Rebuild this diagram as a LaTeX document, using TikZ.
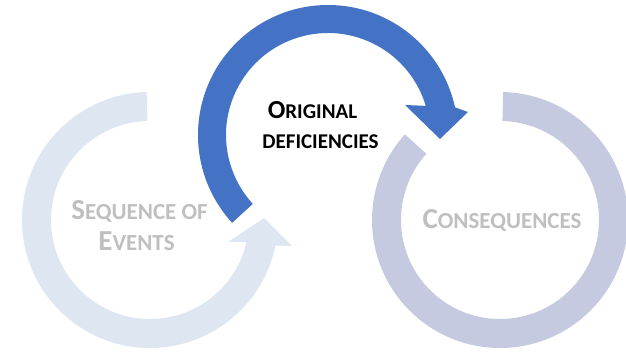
\documentclass[tikz,border=0pt]{standalone}
\usepackage{fontspec}
\setmainfont{Carlito}
\usetikzlibrary{calc}
\definecolor{blueArrow}{HTML}{4472C4}
\definecolor{lightRing}{HTML}{DEE6F2}
\definecolor{lavRing}{HTML}{C6CAE0}
\definecolor{greyText}{HTML}{BFBFBF}
\newcommand{\grsc}[2]{{\fontsize{29}{29}\selectfont #1}{\fontsize{23}{23}\selectfont #2}}
\newcommand{\bksc}[2]{{\fontsize{26}{26}\selectfont #1}{\fontsize{21}{21}\selectfont #2}}
\tikzset{
  greylabel/.style={text=greyText, font=\bfseries, inner sep=0pt, anchor=base},
  blacklabel/.style={text=black, font=\bfseries, inner sep=0pt, anchor=base}
}
\begin{document}
\begin{tikzpicture}[x=1pt,y=1pt]
\useasboundingbox (0,0) rectangle (626,354);
\coordinate (lc) at (150,134);
\coordinate (bc) at (328,219);
\coordinate (rc) at (500,134);
% left ring with arrow head
\coordinate (lhOut) at (292,108);
\coordinate (lhTip) at (264,136);
\coordinate (lhIn) at (228,112);
\fill[lightRing] ($(lc)+(91.5:128)$) arc[start angle=91.5, end angle=348.5, radius=128]
  -- (lhOut) -- (lhTip) -- (lhIn) -- ($(lc)+(347.2:99)$)
  arc[start angle=347.2, end angle=91.5, radius=99] -- cycle;
% blue arrow
\coordinate (bhOut) at (468,242);
\coordinate (bhTip) at (440,215);
\coordinate (bhIn) at (405,249);
\fill[blueArrow] ($(bc)+(222.5:130)$) arc[start angle=222.5, end angle=12.3, radius=130]
  -- (bhOut) -- (bhTip) -- (bhIn) -- ($(bc)+(16.6:102)$)
  arc[start angle=16.6, end angle=222.5, radius=102] -- cycle;
% right ring
\fill[lavRing] ($(rc)+(88.6:128)$) arc[start angle=88.6, end angle=-222, radius=128]
  -- ($(rc)+(-222:99)$) arc[start angle=-222, end angle=88.6, radius=99] -- cycle;
% labels
\node[blacklabel] (orig) at (312.5,235) {\bksc{O}{RIGINAL}};
\node[blacklabel] (defic) at (320.5,205) {\bksc{}{DEFICIENCIES}};
\node[greylabel] (seq) at (139.5,135) {\grsc{S}{EQUENCE OF}};
\node[greylabel] (evt) at (136.5,104) {\grsc{E}{VENTS}};
\node[greylabel] (cons) at (502,126) {\grsc{C}{ONSEQUENCES}};
\end{tikzpicture}
\end{document}
